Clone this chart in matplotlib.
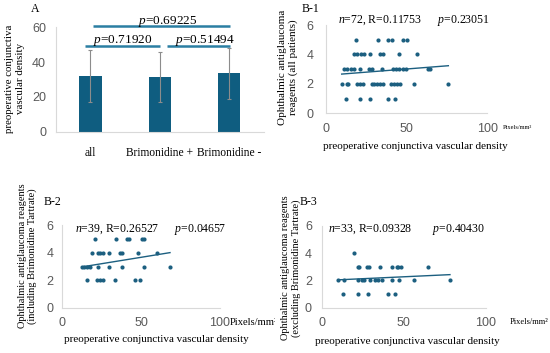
import numpy as np
import matplotlib
matplotlib.use("Agg")
import matplotlib.pyplot as plt
from matplotlib.transforms import Bbox, TransformedBbox

# ---------------- data ----------------
bar_categories = ["all", "Brimonidine +", "Brimonidine -"]
bar_means = [32.2, 31.3, 33.6]
bar_sds = [15.0, 14.5, 14.7]
bar_pvalues = ["0.69225", "0.71920", "0.51494"]   # all vs Brim-, all vs Brim+, Brim+ vs Brim-

b1_x = [18.8, 32.2, 38.4, 40.8, 47.6, 50.4,
        17.5, 19.6, 21.7, 23.7, 27.4, 33.6, 35.7, 45.5, 56.3,
        11.3, 13.4, 15.5, 17.5, 21.2, 27.0, 28.4, 34.7, 41.5, 43.5, 45.6, 48.1, 49.7, 63.5, 64.6,
        9.9, 13.0, 14.0, 19.6, 21.2, 23.3, 28.4, 30.1, 31.6, 33.6, 35.3, 40.4, 42.3, 44.3, 46.0, 54.8, 75.9,
        12.6, 21.2, 27.4, 38.7, 42.9]
b1_y = [5] * 6 + [4] * 9 + [3] * 15 + [2] * 17 + [1] * 5
b1_fit = (0.0086, 2.58)   # slope, intercept of trend line
b1_stats = ("72", "0.11753", "0.23051")

b2_x = [20.7, 34.1, 40.8, 42.3, 50.3, 52.0,
        19.0, 22.4, 24.1, 25.8, 29.6, 36.6, 38.0, 48.2, 59.9,
        12.3, 14.0, 15.7, 17.4, 22.8, 29.6, 37.7, 52.0, 68.3,
        15.5, 21.8, 23.9, 26.0, 33.4, 46.1, 49.3]
b2_y = [5] * 6 + [4] * 9 + [3] * 9 + [2] * 7
b2_fit = (0.0186, 2.74)
b2_stats = ("39", "0.26527", "0.04657")

b3_x = [19.9,
        22.0, 22.9, 27.4, 28.8, 35.5, 42.7, 45.7, 46.7, 48.4, 65.0,
        9.8, 13.8, 22.3, 24.4, 26.0, 29.5, 32.5, 34.5, 36.6, 42.7, 47.1, 56.5, 78.2,
        13.2, 22.3, 28.4, 40.2, 44.7]
b3_y = [4] + [3] * 10 + [2] * 13 + [1] * 5
b3_fit = (0.0056, 1.99)
b3_stats = ("33", "0.09328", "0.40430")

# ---------------- style ----------------
W, H = 550, 353
plt.rcParams["font.family"] = ["Liberation Serif", "DejaVu Serif"]
plt.rcParams["mathtext.fontset"] = "custom"
plt.rcParams["mathtext.rm"] = "Liberation Serif"
plt.rcParams["mathtext.it"] = "Liberation Serif:italic"

BAR_C = "#0f5d80"
LINE_C = "#2b7ea2"
DOT_C = "#1c5f80"
TICK_C = "#595959"
SPINE_C = "#d9d9d9"
SANS = "Liberation Sans"

fig = plt.figure(figsize=(W / 100, H / 100), dpi=100)


def fx(px):
    return px / W


def fy(py):
    return 1 - py / H


def add_axes_px(left, right, top, bottom):
    return fig.add_axes([fx(left), fy(bottom), fx(right) - fx(left), (bottom - top) / H])


def style_axes(ax, xpad, ypad, fs):
    for s in ["top", "right"]:
        ax.spines[s].set_visible(False)
    for s in ["left", "bottom"]:
        ax.spines[s].set_color(SPINE_C)
        ax.spines[s].set_linewidth(0.8)
    ax.tick_params(length=0, colors=TICK_C, labelsize=fs)
    ax.tick_params(axis="x", pad=xpad)
    ax.tick_params(axis="y", pad=ypad)
    for lab in ax.get_yticklabels():
        lab.set_fontfamily(SANS)


# ---------------- panel A ----------------
axA = add_axes_px(55.8, 263.8, 27.3, 131.7)
xpos = np.arange(len(bar_categories))
axA.bar(xpos, bar_means, width=0.32, color=BAR_C, zorder=2)
axA.errorbar(xpos, bar_means, yerr=bar_sds, fmt="none", ecolor="#8c8c8c",
             elinewidth=0.8, capsize=1.5, capthick=0.8, zorder=3)
axA.set_xlim(-0.5, 2.5)
axA.set_ylim(0, 60)
axA.set_yticks([0, 20, 40, 60])
axA.set_xticks(xpos)
axA.set_xticklabels(bar_categories)
style_axes(axA, 11, 7, 9)
for lab in axA.get_yticklabels():
    lab.set_fontfamily(SANS)
for lab in axA.get_xticklabels():
    lab.set_color("black")
    lab.set_fontsize(8.3)

# significance lines
sig = [((0.04, 2.01), 60.7, bar_pvalues[0], 138.3, 21.5),
       ((-0.08, 1.0), 49.2, bar_pvalues[1], 93.3, 40.5),
       ((1.1, 2.01), 49.2, bar_pvalues[2], 175.0, 40.5)]
for (x0, x1), yv, ptxt, tx, ty in sig:
    axA.plot([x0, x1], [yv, yv], color=LINE_C, lw=1.8, clip_on=False,
             solid_capstyle="butt", zorder=4)
    fig.text(fx(tx), fy(ty), r"$p$=" + ptxt, fontsize=9.5, ha="left", va="center")

fig.text(fx(35), fy(8.5), "A", fontsize=8.5, ha="center", va="center")
fig.text(fx(15), fy(78.5), "preoperative conjunctiva\nvascular density", rotation=90,
         fontsize=7.8, ha="center", va="center", linespacing=1.15)


# ---------------- scatter panels ----------------
def scatter_panel(box, xs, ys, fit, stats, tag, tagpos, ylab, ylabpos, ylfs,
                  ann_pos, xlab_pos, unit_pos, unit_fs, pads, clip_right=None):
    ax = add_axes_px(*box)
    ax.scatter(xs, ys, s=9, color=DOT_C, linewidths=0, zorder=3)
    xl = np.array([min(xs), max(xs)])
    ax.plot(xl, fit[0] * xl + fit[1], color=DOT_C, lw=1.0, zorder=2)
    ax.set_xlim(0, 100)
    ax.set_ylim(0, 6)
    ax.set_xticks([0, 50, 100])
    ax.set_yticks([0, 2, 4, 6])
    style_axes(ax, pads[0], pads[1], 9)
    for lab in ax.get_xticklabels() + ax.get_yticklabels():
        lab.set_fontfamily(SANS)
    fig.text(fx(tagpos[0]), fy(tagpos[1]), tag, fontsize=8.5, ha="left", va="center")
    fig.text(fx(ylabpos[0]), fy(ylabpos[1]), ylab, rotation=90, fontsize=ylfs,
             ha="center", va="center", linespacing=1.1)
    (ax1, ay), (px_, py_) = ann_pos
    fig.text(fx(ax1), fy(ay), r"$n$=" + stats[0] + ", R=" + stats[1],
             fontsize=8.5, ha="left", va="center")
    fig.text(fx(px_), fy(py_), r"$p$=" + stats[2], fontsize=8.5, ha="left", va="center")
    fig.text(fx(xlab_pos[0]), fy(xlab_pos[1]), "preoperative conjunctiva vascular density",
             fontsize=8, ha="center", va="center")
    t = fig.text(fx(unit_pos[0]), fy(unit_pos[1]), "Pixels/mm\u00b2", fontsize=unit_fs,
                 ha="left", va="center")
    if clip_right is not None:
        t.set_clip_box(TransformedBbox(Bbox([[0, 0], [fx(clip_right), 1]]), fig.transFigure))
        t.set_clip_on(True)
    return ax


scatter_panel((325.7, 487.3, 25.0, 113.3), b1_x, b1_y, b1_fit, b1_stats, "B-1", (301.7, 8.5),
              "Ophthalmic antiglaucoma\nreagents (all patients)", (288, 67.5), 8,
              ((338.3, 20.7), (436.7, 20.7)), (415, 146.7), (503, 127.7), 4.6, (7, 9))

scatter_panel((62.3, 220.0, 225.3, 307.7), b2_x, b2_y, b2_fit, b2_stats, "B-2", (43.3, 202),
              "Ophthalmic antiglaucoma reagents\n(including Brimonidine Tartrate)", (27.5, 256), 7.5,
              ((75, 229.3), (174.3, 229.3)), (156, 339.3), (230, 322.7), 7.6, (7, 6.5),
              clip_right=275)

scatter_panel((321.7, 485.7, 226.0, 307.7), b3_x, b3_y, b3_fit, b3_stats, "B-3", (300, 202),
              "Ophthalmic antiglaucoma reagents\n(excluding Brimonidine Tartrate)", (291, 268), 7.5,
              ((328.3, 229.3), (431.7, 229.3)), (407.5, 341), (510, 322), 6, (7, 7))

fig.savefig("out.png", dpi=100)
